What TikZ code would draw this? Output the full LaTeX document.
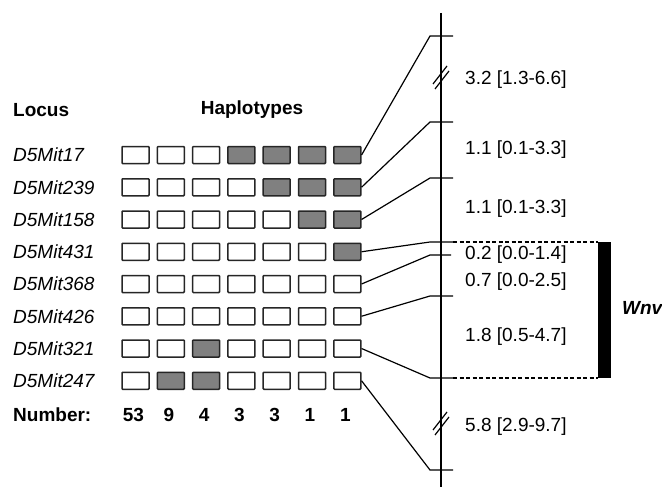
\documentclass[tikz,border=0pt]{standalone}
\usepackage{fontspec}
\setmainfont{Liberation Sans}
\begin{document}
\begin{tikzpicture}[x=1pt,y=-1pt,
  hap/.style={draw=black!85,line width=1.5pt,rounded corners=0.8pt,minimum width=27pt,minimum height=17pt,inner sep=0pt,fill=white},
  hapg/.style={hap,fill=black!50},
  lab/.style={anchor=west,font=\fontsize{19}{21}\selectfont\itshape,inner sep=0pt},
  head/.style={font=\fontsize{19}{21}\selectfont\bfseries,inner sep=0pt},
  num/.style={font=\fontsize{19}{21}\selectfont\bfseries,inner sep=0pt},
  dist/.style={anchor=west,font=\fontsize{19}{21}\selectfont,inner sep=0pt},
  conn/.style={line width=1.2pt},
  axis/.style={line width=1.5pt},
  brk/.style={line width=1.1pt,dash pattern=on 4pt off 2.5pt}]
\useasboundingbox (0,0) rectangle (662,487);

% headings
\node[head,anchor=west] (locus) at (13,110) {Locus};
\node[head] (haplo) at (252,110) {Haplotypes};

% rows
\foreach \name/\pat [count=\i] in {
  D5Mit17/{0,0,0,1,1,1,1},
  D5Mit239/{0,0,0,0,1,1,1},
  D5Mit158/{0,0,0,0,0,1,1},
  D5Mit431/{0,0,0,0,0,0,1},
  D5Mit368/{0,0,0,0,0,0,0},
  D5Mit426/{0,0,0,0,0,0,0},
  D5Mit321/{0,0,1,0,0,0,0},
  D5Mit247/{0,1,1,0,0,0,0}}{
  \pgfmathsetmacro{\yy}{155+32.25*(\i-1)}
  \node[lab] (l\i) at (13,\yy) {\name};
  \foreach \bit [count=\j] in \pat {
    \pgfmathsetmacro{\xx}{135.5+35.3*(\j-1)}
    \ifnum\bit=1
      \node[hapg] (b\i-\j) at (\xx,\yy) {};
    \else
      \node[hap] (b\i-\j) at (\xx,\yy) {};
    \fi
  }
}

% numbers
\node[head,anchor=west] (numlab) at (13,415) {Number:};
\foreach \v [count=\j] in {53,9,4,3,3,1,1}{
  \pgfmathsetmacro{\xx}{133.5+35.3*(\j-1)}
  \node[num] (n\j) at (\xx,415) {\v};
}

% map axis
\coordinate (top) at (441,13);
\coordinate (bot) at (441,487);
\draw[axis] (top) -- (bot);

% tick coordinates
\coordinate (k1) at (430,36);   \coordinate (t1) at (453,36);
\coordinate (k2) at (430,122);  \coordinate (t2) at (453,122);
\coordinate (k3) at (430,178);  \coordinate (t3) at (453,178);
\coordinate (k4) at (430,242);  \coordinate (t4) at (453,242);
\coordinate (k5) at (430,255);  \coordinate (t5) at (451,255);
\coordinate (k6) at (430,296);  \coordinate (t6) at (453,296);
\coordinate (k7) at (430,378);  \coordinate (t7) at (453,378);
\coordinate (k8) at (430,470);  \coordinate (t8) at (453,470);

\foreach \i in {1,...,8}{
  \draw[conn] (b\i-7.east) -- (k\i) -- (t\i);
}

% Wnv interval
\coordinate (d1) at (598,242);
\coordinate (d2) at (598,378);
\draw[brk] (t4) -- (d1);
\draw[brk] (t7) -- (d2);
\fill (598,242) rectangle (611,378);
\node[font=\fontsize{19}{21}\selectfont\bfseries\itshape,anchor=west,inner sep=0pt] (wnv) at (622,308) {Wnv};

% breaks
\foreach \yc in {77,423}{
  \draw[line width=1.2pt] (433,\yc+7) -- (447,\yc-11);
  \draw[line width=1.2pt] (435,\yc+12) -- (449,\yc-6);
}

% distances
\node[dist] (g1) at (465,80) {3.2 [1.3-6.6]};
\node[dist] (g2) at (465,150) {1.1 [0.1-3.3]};
\node[dist] (g3) at (465,209) {1.1 [0.1-3.3]};
\node[dist] (g4) at (465,255) {0.2 [0.0-1.4]};
\node[dist] (g5) at (465,282) {0.7 [0.0-2.5]};
\node[dist] (g6) at (465,337) {1.8 [0.5-4.7]};
\node[dist] (g7) at (465,427) {5.8 [2.9-9.7]};
\end{tikzpicture}
\end{document}
